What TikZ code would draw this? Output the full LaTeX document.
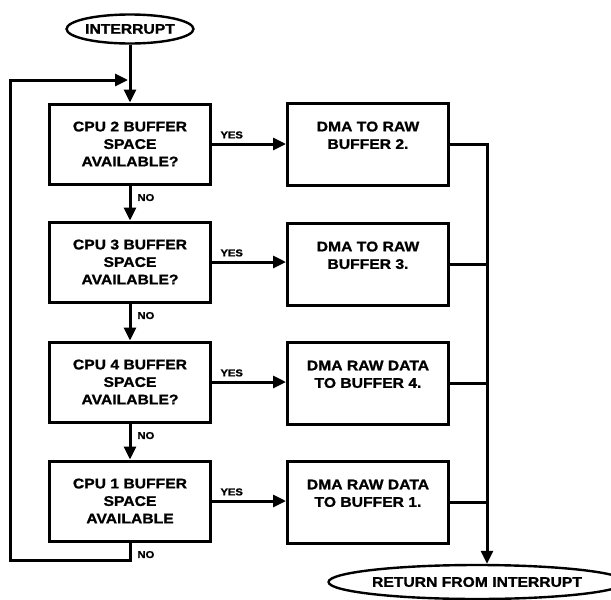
\documentclass[tikz,border=0pt]{standalone}
\usepackage{fontspec}
\setmainfont{Liberation Sans}[FakeStretch=1.12, BoldFeatures={FakeBold=1.2}]
\usetikzlibrary{arrows.meta,shapes.geometric}
\begin{document}
\begin{tikzpicture}[
                    x=1pt, y=-1pt,
                    line width=3pt,
                    >={Triangle[length=13pt,width=12pt]},
                    every node/.style={font=\bfseries\fontsize{14}{17.5}\selectfont, align=center},
                    test/.style={rectangle, draw, minimum width=161pt, minimum height=80pt, inner sep=0pt},
                    job/.style={rectangle, draw, minimum width=161pt, minimum height=82pt, inner sep=0pt},
                    terminal/.style={ellipse, draw, line width=2.4pt, inner sep=0pt},
                    answer/.style={font=\bfseries\fontsize{10}{11}\selectfont, inner sep=1pt},
                ]
                \useasboundingbox (0,0) rectangle (611,600);
                \node[terminal, minimum width=123pt, minimum height=29pt] (interrupt) at (130,29) {INTERRUPT};
                \node[test] (cpu2) at (130,144) {CPU 2 BUFFER\\SPACE\\AVAILABLE?};
                \node[test] (cpu3) at (130,262) {CPU 3 BUFFER\\SPACE\\AVAILABLE?};
                \node[test] (cpu4) at (130,382) {CPU 4 BUFFER\\SPACE\\AVAILABLE?};
                \node[test] (cpu1) at (130,501) {CPU 1 BUFFER\\SPACE\\AVAILABLE};
                \node[job] (dma2) at (368,144) {DMA TO RAW\\BUFFER 2.\\ \mbox{}};
                \node[job] (dma3) at (368,264) {DMA TO RAW\\BUFFER 3.\\ \mbox{}};
                \node[job] (dma4) at (368,383) {DMA RAW DATA\\TO BUFFER 4.\\ \mbox{}};
                \node[job] (dma1) at (368,502) {DMA RAW DATA\\TO BUFFER 1.\\ \mbox{}};
                \node[terminal, minimum width=266pt, minimum height=34pt] (return) at (477,582) {RETURN FROM INTERRUPT};
                \coordinate (bus) at (487,144);
                \coordinate (loopbl) at (10,560);
                \coordinate (looptl) at (10,80);
                \coordinate (merge) at (128,80);
                \draw[->] (interrupt) -- (cpu2);
                \draw[->] (cpu2) -- node[answer, pos=0, anchor=north west, xshift=5pt, yshift=-6pt] (no2) {NO} (cpu3);
                \draw[->] (cpu3) -- node[answer, pos=0, anchor=north west, xshift=5pt, yshift=-6pt] (no3) {NO} (cpu4);
                \draw[->] (cpu4) -- node[answer, pos=0, anchor=north west, xshift=5pt, yshift=-6pt] (no4) {NO} (cpu1);
                \draw[->] (cpu1) -- node[answer, pos=0, anchor=north west, xshift=5pt, yshift=-6pt] (no1) {NO} (cpu1.south |- loopbl) -- (loopbl) -- (looptl) -- (merge);
                \draw[->] (cpu2) -- node[answer, pos=0, anchor=south west, xshift=6pt, yshift=3pt] (yes2) {YES} (dma2);
                \draw[->] (cpu3) -- node[answer, pos=0, anchor=south west, xshift=6pt, yshift=3pt] (yes3) {YES} (cpu3 -| dma3.west);
                \draw[->] (cpu4) -- node[answer, pos=0, anchor=south west, xshift=6pt, yshift=3pt] (yes4) {YES} (cpu4 -| dma4.west);
                \draw[->] (cpu1) -- node[answer, pos=0, anchor=south west, xshift=6pt, yshift=3pt] (yes1) {YES} (cpu1 -| dma1.west);
                \draw[->] (dma2) -- (bus) -- (bus |- return.north);
                \draw (dma3.east) -- (dma3.east -| bus);
                \draw (dma4.east) -- (dma4.east -| bus);
                \draw (dma1.east) -- (dma1.east -| bus);
                \end{tikzpicture}
\end{document}
